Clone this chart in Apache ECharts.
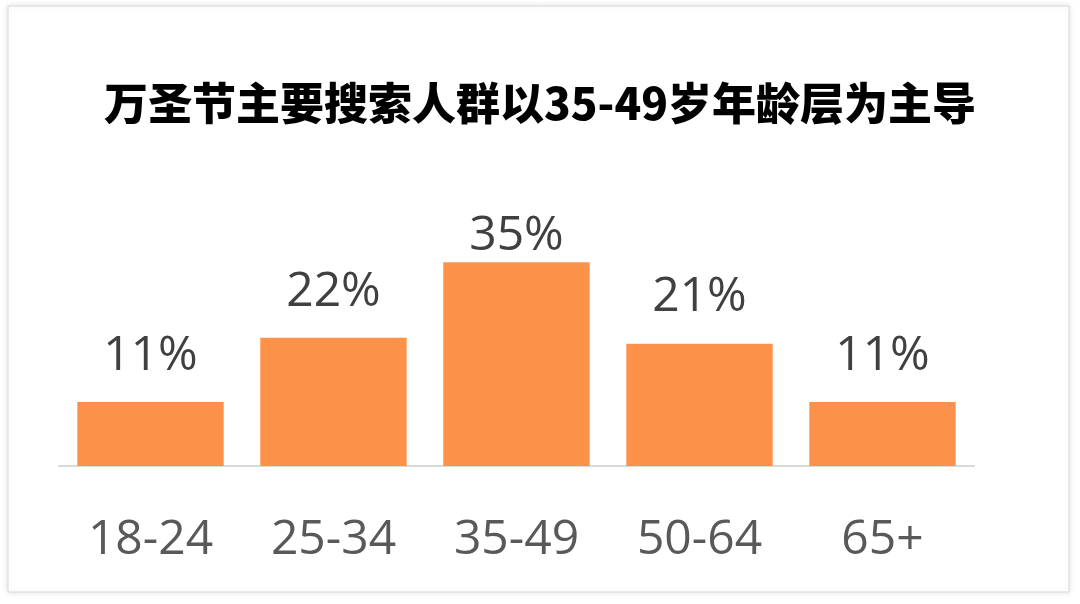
<!DOCTYPE html>
<html>
<head>
    <meta charset="utf-8">
    <title>万圣节搜索人群年龄</title>
    <style>
        html, body { margin: 0; padding: 0; background: #fff; }
        #main { width: 1080px; height: 604px; }
    </style>
</head>
<body>
<div id="main"></div>

<script src="https://cdn.jsdelivr.net/npm/echarts@6/dist/echarts.min.js"></script>
<script>
    // 数据
    var titleText = '万圣节主要搜索人群以35-49岁年龄层为主导';
    var ageGroups = ['18-24', '25-34', '35-49', '50-64', '65+'];
    var sharePct = [11, 22, 35, 21, 11];

    // 最高的柱子标签贴得更近
    var peak = Math.max.apply(null, sharePct);
    var barData = sharePct.map(function (v) {
        return v === peak ? { value: v, label: { distance: 2 } } : v;
    });

    var myChart = echarts.init(document.getElementById('main'));

    myChart.setOption({
        backgroundColor: '#fff',
        animation: false,
        // 外框
        graphic: [{
            type: 'rect',
            z: -100,
            shape: { x: 8, y: 6, width: 1061, height: 586 },
            style: {
                fill: '#fff',
                stroke: '#d9d9d9',
                lineWidth: 1,
                shadowBlur: 6,
                shadowColor: 'rgba(0,0,0,0.12)'
            }
        }],
        title: {
            text: titleText,
            left: 'center',
            top: 80,
            padding: 0,
            textStyle: {
                fontFamily: 'Noto Sans CJK SC',
                fontWeight: 900,
                fontSize: 44,
                lineHeight: 46,
                color: '#000'
            }
        },
        grid: { left: 59, right: 106, top: 233, bottom: 138 },
        xAxis: {
            type: 'category',
            data: ageGroups,
            axisLine: { lineStyle: { color: '#d9d9d9', width: 2 } },
            axisTick: { show: false },
            axisLabel: {
                margin: 50,
                fontFamily: 'Open Sans',
                fontSize: 48,
                lineHeight: 48,
                color: '#595959'
            }
        },
        yAxis: {
            type: 'value',
            min: 0,
            max: 40,
            show: false,
            splitLine: { show: false }
        },
        series: [{
            type: 'bar',
            data: barData,
            barWidth: '80%',
            itemStyle: { color: '#fc924a' },
            label: {
                show: true,
                position: 'top',
                distance: 22,
                formatter: '{c}%',
                fontFamily: 'Open Sans',
                fontSize: 48,
                color: '#404040'
            }
        }]
    });
</script>
</body>
</html>
